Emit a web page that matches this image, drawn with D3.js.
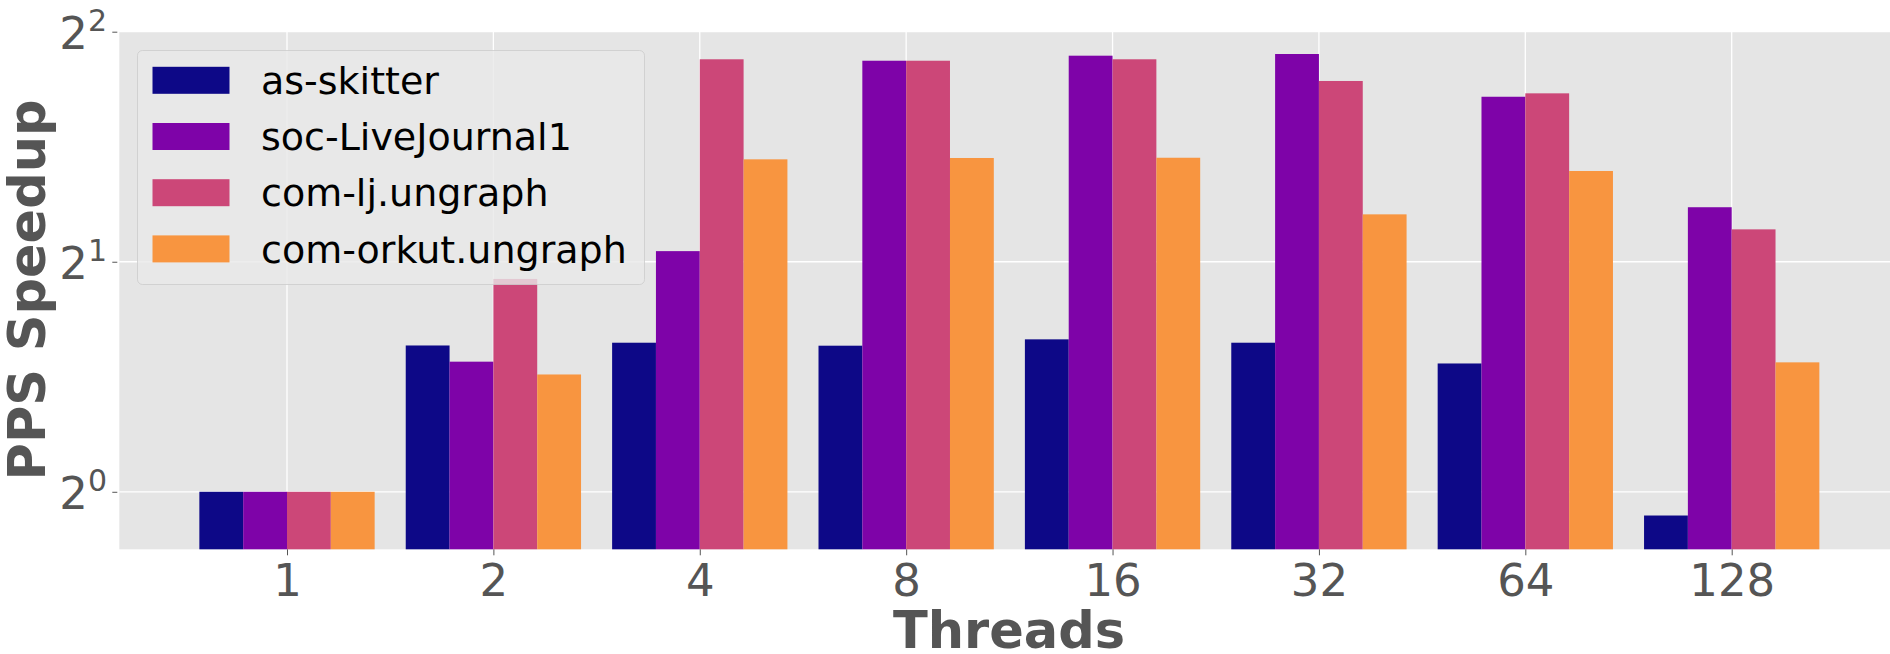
<!DOCTYPE html>
<html>
<head>
<meta charset="utf-8">
<script src="https://cdn.jsdelivr.net/npm/d3@7"></script>
<style>
  body { margin: 0; background: #fff; }
  svg { display: block; font-family: "DejaVu Sans", sans-serif; }
</style>
</head>
<body>
<div id="chart"></div>
<script>
// Threads on the x axis
var threads = ["1", "2", "4", "8", "16", "32", "64", "128"];

// Graphs (one bar per graph in each group)
var graphs = ["as-skitter", "soc-LiveJournal1", "com-lj.ungraph", "com-orkut.ungraph"];

// PPS speedup per graph
var asSkitter = [1.0, 1.554, 1.567, 1.553, 1.583, 1.567, 1.472, 0.931];
var socLiveJournal = [1.0, 1.480, 2.065, 3.665, 3.721, 3.740, 3.288, 2.357];
var comLj = [1.0, 1.899, 3.681, 3.665, 3.681, 3.448, 3.322, 2.205];
var comOrkut = [1.0, 1.424, 2.723, 2.734, 2.736, 2.307, 2.629, 1.477];

var yTicks = [1, 2, 4];
var yTickExp = ["0", "1", "2"];

var colors = ["#0d0887", "#7e03a8", "#cc4778", "#f89540"];

var seriesValues = [asSkitter, socLiveJournal, comLj, comOrkut];

// Chart dimensions
var width = 1890;
var height = 654;
var plotLeft = 119.3, plotTop = 31.7, plotBottom = 549.3, plotRight = 1899;

var svg = d3.select("#chart")
    .append("svg")
    .attr("width", width)
    .attr("height", height);

svg.append("rect")
    .attr("width", width)
    .attr("height", height)
    .attr("fill", "#fff");

// Scales
var x = d3.scalePoint().domain(threads).range([287, 1731.7]);
var xInner = d3.scaleBand().domain(graphs).range([-87.65, 87.65]);
var y = d3.scaleLog().base(2).domain([Math.pow(2, -0.25), 4]).range([plotBottom, plotTop]);
var color = d3.scaleOrdinal(graphs, colors);

// Plot background
svg.append("rect")
    .attr("x", plotLeft)
    .attr("y", plotTop)
    .attr("width", plotRight - plotLeft)
    .attr("height", plotBottom - plotTop)
    .attr("fill", "#e5e5e5");

// Grid lines
svg.append("g")
    .selectAll("line")
    .data(yTicks)
    .enter()
    .append("line")
    .attr("x1", plotLeft)
    .attr("x2", plotRight)
    .attr("y1", d => y(d))
    .attr("y2", d => y(d))
    .attr("stroke", "#fff")
    .attr("stroke-width", 1.3);

svg.append("g")
    .selectAll("line")
    .data(threads)
    .enter()
    .append("line")
    .attr("x1", d => x(d))
    .attr("x2", d => x(d))
    .attr("y1", plotTop)
    .attr("y2", plotBottom)
    .attr("stroke", "#fff")
    .attr("stroke-width", 1.3);

// Bars
var barData = [];
threads.forEach((t, i) => {
    graphs.forEach((g, j) => {
        barData.push({ thread: t, graph: g, value: seriesValues[j][i] });
    });
});

svg.append("g")
    .selectAll("rect")
    .data(barData)
    .enter()
    .append("rect")
    .attr("x", d => x(d.thread) + xInner(d.graph))
    .attr("y", d => y(d.value))
    .attr("width", xInner.bandwidth())
    .attr("height", d => plotBottom - y(d.value))
    .attr("fill", d => color(d.graph));

// X axis
var xAxis = svg.append("g")
    .attr("transform", "translate(0," + plotBottom + ")")
    .call(d3.axisBottom(x).tickSize(6).tickPadding(8));
xAxis.select(".domain").remove();
xAxis.selectAll(".tick line").attr("stroke", "#555").attr("stroke-width", 1);
xAxis.selectAll(".tick text")
    .attr("y", 46.7)
    .attr("dy", null)
    .attr("font-size", "45px")
    .attr("font-family", "DejaVu Sans")
    .attr("fill", "#555");

// Y axis (2^n labels)
var yAxis = svg.append("g")
    .attr("transform", "translate(" + (plotLeft - 2) + ",0)")
    .call(d3.axisLeft(y).tickValues(yTicks).tickSize(5).tickFormat(""));
yAxis.select(".domain").remove();
yAxis.selectAll(".tick line").attr("stroke", "#555").attr("stroke-width", 1);

var yLabels = svg.append("g")
    .selectAll("text")
    .data(yTicks)
    .enter()
    .append("text")
    .attr("x", 107)
    .attr("y", d => y(d) + 17)
    .attr("text-anchor", "end")
    .attr("fill", "#555")
    .attr("font-size", "45px");
yLabels.append("tspan").text("2");
yLabels.append("tspan")
    .attr("font-size", "30px")
    .attr("dy", -17.5)
    .text((d, i) => yTickExp[i]);

// Axis titles
svg.append("text")
    .attr("x", 1009)
    .attr("y", 648)
    .attr("text-anchor", "middle")
    .attr("font-size", "51px")
    .attr("font-weight", "bold")
    .attr("fill", "#555")
    .text("Threads");

svg.append("text")
    .attr("transform", "translate(45,290) rotate(-90)")
    .attr("text-anchor", "middle")
    .attr("font-size", "51px")
    .attr("font-weight", "bold")
    .attr("fill", "#555")
    .text("PPS Speedup");

// Legend
var legend = svg.append("g");

legend.append("rect")
    .attr("x", 137.5)
    .attr("y", 50.5)
    .attr("width", 507)
    .attr("height", 234)
    .attr("rx", 5)
    .attr("fill", "#e8e8e8")
    .attr("fill-opacity", 0.8)
    .attr("stroke", "#cccccc")
    .attr("stroke-opacity", 0.8)
    .attr("stroke-width", 1);

graphs.forEach((g, i) => {
    var cy = 80.3 + i * 56.2;
    legend.append("rect")
        .attr("x", 152.5)
        .attr("y", cy - 13.5)
        .attr("width", 77)
        .attr("height", 27)
        .attr("fill", color(g));
    legend.append("text")
        .attr("x", 261)
        .attr("y", cy + 13.7)
        .attr("font-size", "38px")
        .attr("fill", "#000")
        .text(g);
});
</script>
</body>
</html>
